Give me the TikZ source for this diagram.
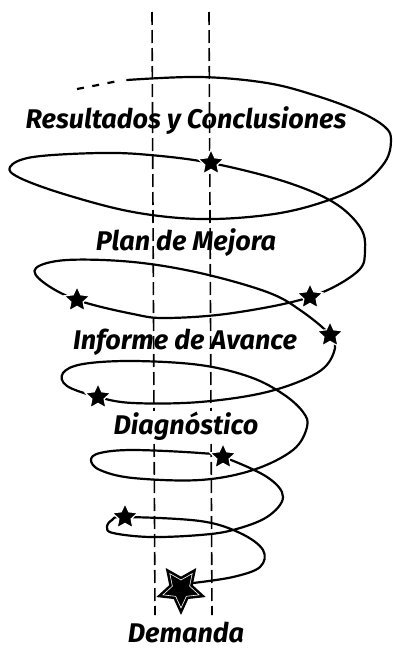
\documentclass[tikz,border=0pt]{standalone}
\usepackage{fontspec}
\setmainfont{Fira Sans}
\usetikzlibrary{shapes.geometric}
\begin{document}
\begin{tikzpicture}[x=1pt,y=-1pt,
  lbl/.style={font=\fontsize{27}{30}\selectfont\bfseries\itshape, inner sep=1pt},
  guide/.style={line width=1.6pt, dash pattern=on 13pt off 5pt},
  spiral/.style={line width=2.2pt, line cap=round, line join=round},
  spiraldash/.style={line width=2.2pt, dash pattern=on 7pt off 8.5pt},
  smallstar/.style={star, star points=5, star point ratio=2.1, fill=black, draw=white, line width=1.2pt, minimum size=27pt, inner sep=0pt},
  bigstar/.style={star, star points=5, star point ratio=2.1, fill=black, minimum size=52pt, inner sep=0pt, shape border rotate=180},
  bigstarline/.style={star, star points=5, star point ratio=2.1, draw=white, line width=0.6pt, minimum size=38pt, inner sep=0pt, shape border rotate=180}
  ]
\useasboundingbox (0,0) rectangle (392,648);
% guide lines
\coordinate (g1t) at (152,12);
\coordinate (g1b) at (155,615);
\coordinate (g2t) at (209,12);
\coordinate (g2b) at (212,615);
\draw[guide] (g1t) -- (g1b);
\draw[guide] (g2t) -- (g2b);
% labels
\node[lbl] (res) at (186,121) {Resultados y Conclusiones};
\node[lbl] (plan) at (186,243) {Plan de Mejora};
\node[lbl] (inf) at (185,342) {Informe de Avance};
\node[lbl, fill=white] (diag) at (186,426) {Diagnóstico};
\node[lbl] (dem) at (186,632) {Demanda};
% spiral
\draw[spiraldash] plot[smooth] coordinates {(77,89) (98,85) (118,81)};
\draw[spiral] plot[smooth, tension=0.6] coordinates {
 (127,80) (200,77) (267,83) (317,96) (360,112) (385,127) (391,140) (385,162)
 (360,186) (317,204) (267,215) (200,219) (133,212) (67,195) (20,178) (10,167)
 (33,157) (100,153) (150,155) (211,163) (283,181) (333,202) (360,227) (365,250)
 (357,272) (310,297) (233,313) (167,318) (133,314) (77,300) (43,282) (36,268)
 (67,260) (133,262) (200,273) (267,292) (300,310) (330,335) (334,352) (317,373)
 (267,392) (200,402) (133,403) (98,397) (67,386) (63,373) (83,364) (133,361)
 (200,365) (250,377) (283,394) (303,412) (307,427) (293,450) (253,470) (200,480)
 (133,478) (100,470) (91,460) (100,453) (133,450) (200,453) (223,457) (267,477)
 (283,497) (267,517) (233,530) (200,535) (150,537) (113,533) (107,527) (112,520)
 (125,517) (200,521) (240,533) (263,550) (260,567) (233,577) (193,583)};
% stars
\node[smallstar] (s1) at (211,163) {};
\node[smallstar] (s2) at (310,297) {};
\node[smallstar] (s3) at (77,300) {};
\node[smallstar] (s4) at (330,335) {};
\node[smallstar] (s5) at (98,397) {};
\node[smallstar] (s6) at (223,457) {};
\node[smallstar] (s7) at (125,517) {};
\node[bigstar] (big) at (181,589) {};
\node[bigstarline] (bigl) at (181,589) {};
\end{tikzpicture}
\end{document}
